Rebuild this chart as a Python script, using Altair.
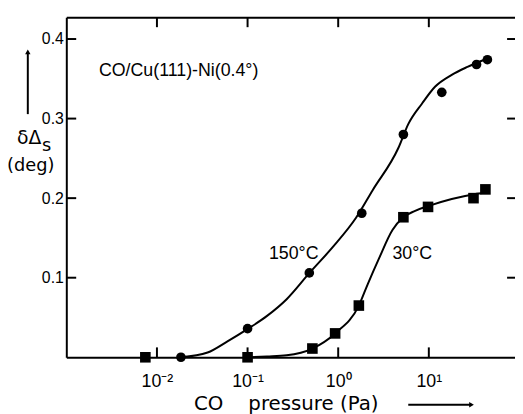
import json
import math
import altair as alt
import pandas as pd

# ---------------- data ----------------
# measured points, 150 °C (circles)
P150 = [0.0184, 0.100, 0.48, 1.82, 5.24, 13.9, 33.6, 44.3]
D150 = [0.000, 0.036, 0.106, 0.181, 0.280, 0.333, 0.368, 0.374]
# measured points, 30 °C (squares)
P30 = [0.00745, 0.100, 0.519, 0.925, 1.69, 5.24, 9.8, 31.1, 42.1]
D30 = [0.000, 0.000, 0.011, 0.030, 0.065, 0.176, 0.189, 0.200, 0.211]
# drawn fit curves
FIT150_P = [0.0184, 0.0362, 0.060, 0.1016, 0.164, 0.270, 0.482, 0.879, 1.567,
            2.40, 4.61, 5.93, 8.43, 11.7, 17.9, 26.7, 41.0]
FIT150_D = [0.000, 0.006, 0.020, 0.036, 0.052, 0.073, 0.106, 0.139, 0.175,
            0.210, 0.263, 0.293, 0.319, 0.340, 0.355, 0.365, 0.374]
FIT30_P = [0.1016, 0.164, 0.270, 0.519, 0.925, 1.69, 2.12, 2.79, 3.97, 5.24,
           7.06, 9.80, 17.9, 31.9, 42.1]
FIT30_D = [0.000, 0.001, 0.0025, 0.011, 0.030, 0.065, 0.092, 0.123, 0.160,
           0.176, 0.184, 0.190, 0.199, 0.205, 0.207]

# axes
X_DOMAIN = [1e-3, 89.3]
Y_DOMAIN = [0.0, 0.4273]
X_TICKS = [0.01, 0.1, 1, 10]
X_TICK_LABELS = ["10⁻²", "10⁻¹", "10⁰", "10¹"]
Y_TICKS = [0.1, 0.2, 0.3, 0.4]
X_TITLE = "CO\u00a0\u00a0\u00a0\u00a0pressure (Pa)"

# annotations (data coordinates)
NOTE_TEXT = ["CO/Cu(111)-Ni(0.4°)", "150°C", "30°C"]
NOTE_P = [0.00229, 0.172, 3.97]
NOTE_D = [0.354, 0.123, 0.123]

YT_TEXT = ["δΔ", "s", "(deg)"]
YT_P = [2.85e-4, 5.4e-4, 2.22e-4]
YT_D = [0.268, 0.2596, 0.2335]
YT_SIZE = [19, 18, 18]

YARROW_P = [3.76e-4, 3.76e-4]
YARROW_D = [0.3056, 0.3839]
XARROW_P = [5.93, 29.6]
XARROW_D = [-0.0596, -0.0596]

# ---------------- layout ----------------
W, H = 454, 344
TICK_PX = 10        # inward tick length (left / top / bottom)
RTICK_PX = 8        # inward tick length (right)
TICK_COLOR = "black"

dy = (Y_DOMAIN[1] - Y_DOMAIN[0]) * TICK_PX / H
decades = math.log10(X_DOMAIN[1] / X_DOMAIN[0])
fx_left = 10 ** (decades * TICK_PX / W)
fx_right = 10 ** (decades * RTICK_PX / W)

# ---------------- tables ----------------
pts150 = pd.DataFrame({"p": P150, "d": D150})
pts30 = pd.DataFrame({"p": P30, "d": D30})
fit150 = pd.DataFrame({"p": FIT150_P, "d": FIT150_D})
fit30 = pd.DataFrame({"p": FIT30_P, "d": FIT30_D})
notes = pd.DataFrame({"p": NOTE_P, "d": NOTE_D, "t": NOTE_TEXT})
ytitle = pd.DataFrame({"p": YT_P, "d": YT_D, "t": YT_TEXT, "s": YT_SIZE})
yarrow = pd.DataFrame({"p": [YARROW_P[0]], "d": [YARROW_D[0]], "d2": [YARROW_D[1]]})
yhead = pd.DataFrame({"p": [YARROW_P[1]], "d": [YARROW_D[1]]})
xarrow = pd.DataFrame({"p": [XARROW_P[0]], "p2": [XARROW_P[1]], "d": [XARROW_D[0]]})
xhead = pd.DataFrame({"p": [XARROW_P[1]], "d": [XARROW_D[1]]})

vticks = pd.DataFrame({
    "p": X_TICKS * 2,
    "d": [Y_DOMAIN[0]] * len(X_TICKS) + [Y_DOMAIN[1]] * len(X_TICKS),
    "d2": [Y_DOMAIN[0] + dy] * len(X_TICKS) + [Y_DOMAIN[1] - dy] * len(X_TICKS),
})
hticks = pd.DataFrame({
    "p": [X_DOMAIN[0]] * len(Y_TICKS) + [X_DOMAIN[1]] * len(Y_TICKS),
    "p2": [X_DOMAIN[0] * fx_left] * len(Y_TICKS) + [X_DOMAIN[1] / fx_right] * len(Y_TICKS),
    "d": Y_TICKS * 2,
})

xs = alt.Scale(type="log", domain=X_DOMAIN, nice=False)
ys = alt.Scale(domain=Y_DOMAIN, nice=False, zero=False)

label_expr = json.dumps(X_TICK_LABELS, ensure_ascii=False) + "[round(log(datum.value)/LN10)+2]"

ax_bottom = alt.Axis(orient="bottom", domain=True, domainColor="black", domainWidth=2,
                     ticks=False, values=X_TICKS,
                     labelExpr=label_expr, labelFont="Liberation Sans",
                     labelFontSize=18, labelPadding=16, labelColor="black",
                     labelFlush=False, labelOverlap=False, grid=False,
                     title=X_TITLE, titleFont="DejaVu Sans", titleFontSize=20,
                     titleFontWeight="normal", titleColor="black",
                     titleX=222, titleY=53, titleBaseline="alphabetic")
ax_left = alt.Axis(orient="left", domain=True, domainColor="black", domainWidth=2,
                   ticks=False, values=Y_TICKS, format=".1f",
                   labelFont="Liberation Sans", labelFontSize=16, labelPadding=3,
                   labelColor="black", grid=False)
ax_top = alt.Axis(orient="top", domain=True, domainColor="black", domainWidth=2,
                  ticks=False, labels=False, grid=False)


def enc(chart):
    return chart.encode(x=alt.X("p:Q", scale=xs, axis=None), y=alt.Y("d:Q", scale=ys, axis=None))


line150 = alt.Chart(fit150).mark_line(color="black", strokeWidth=2, interpolate="monotone").encode(
    x=alt.X("p:Q", scale=xs, axis=ax_bottom),
    y=alt.Y("d:Q", scale=ys, axis=ax_left, title=None),
)
line30 = alt.Chart(fit30).mark_line(color="black", strokeWidth=2, interpolate="monotone").encode(
    x=alt.X("p:Q", scale=xs, axis=ax_top, title=None),
    y=alt.Y("d:Q", scale=ys, axis=None),
)
circles = enc(alt.Chart(pts150).mark_circle(color="black", size=95, opacity=1))
squares = enc(alt.Chart(pts30).mark_square(color="black", size=115, opacity=1))

vtick_layer = enc(alt.Chart(vticks).mark_rule(color=TICK_COLOR, strokeWidth=2)).encode(y2="d2:Q")
htick_layer = enc(alt.Chart(hticks).mark_rule(color=TICK_COLOR, strokeWidth=2)).encode(x2="p2:Q")

note_layer = enc(alt.Chart(notes).mark_text(font="Liberation Sans", fontSize=18, align="left",
                                            baseline="alphabetic", color="black")).encode(text="t:N")
yt_layer = enc(alt.Chart(ytitle).mark_text(font="DejaVu Sans", align="left",
                                           baseline="alphabetic", color="black")).encode(
    text="t:N", size=alt.Size("s:Q", scale=None, legend=None))
yarrow_layer = enc(alt.Chart(yarrow).mark_rule(color="black", strokeWidth=2)).encode(y2="d2:Q")
yhead_layer = enc(alt.Chart(yhead).mark_point(shape="triangle-up", filled=True, color="black",
                                              size=30, opacity=1))
xarrow_layer = enc(alt.Chart(xarrow).mark_rule(color="black", strokeWidth=2)).encode(x2="p2:Q")
xhead_layer = enc(alt.Chart(xhead).mark_point(shape="triangle-right", filled=True, color="black",
                                              size=30, opacity=1))

chart = alt.layer(
    line150, line30, circles, squares, vtick_layer, htick_layer,
    note_layer, yt_layer, yarrow_layer, yhead_layer, xarrow_layer, xhead_layer,
).resolve_axis(x="independent", y="independent").properties(
    width=W, height=H,
    autosize=alt.AutoSizeParams(type="none"),
    padding={"left": 59, "top": 7, "right": 0, "bottom": 56},
).configure_view(stroke=None).configure_axis(grid=False)

chart.save("out.html", embed_options={"renderer": "svg", "actions": False})
